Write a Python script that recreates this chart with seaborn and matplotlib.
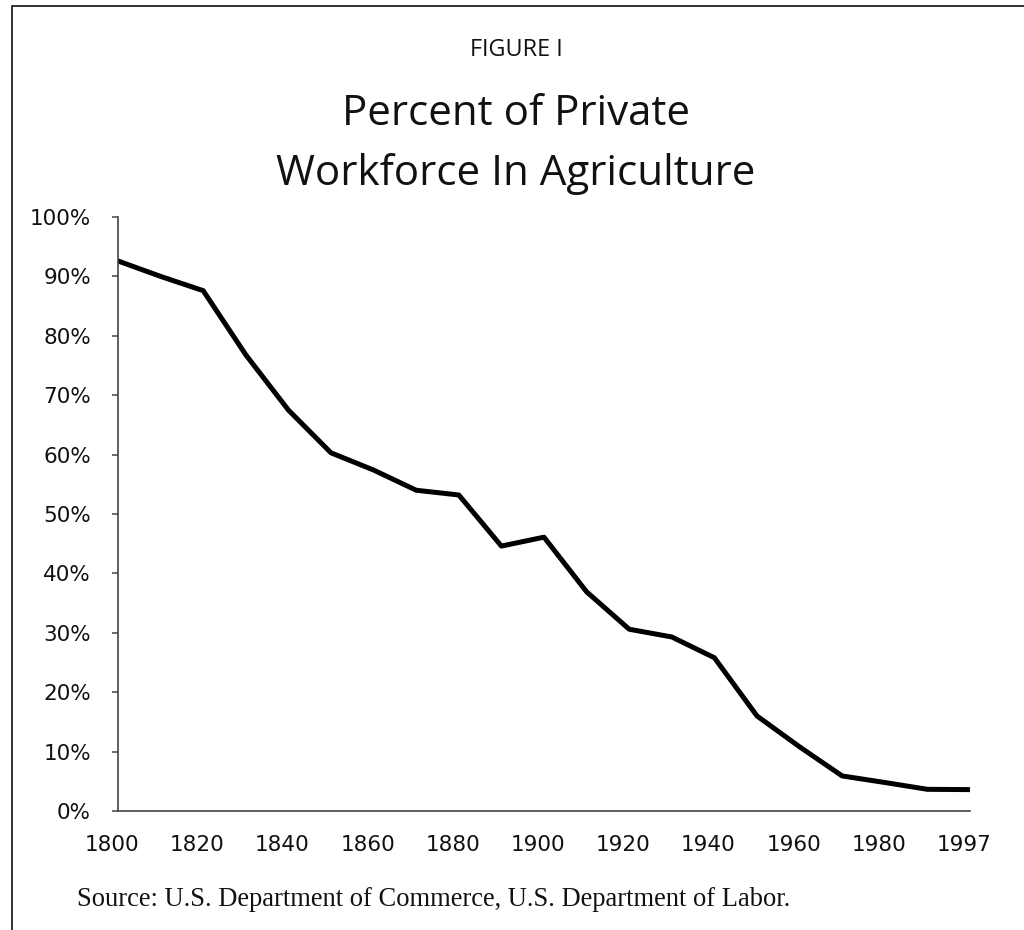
import matplotlib
matplotlib.use("Agg")
import matplotlib.pyplot as plt
import matplotlib.transforms as mtransforms
from matplotlib.patches import Rectangle
import seaborn as sns
import pandas as pd

# Share of the private workforce employed in agriculture, by census year
years = ["1800", "1810", "1820", "1830", "1840", "1850", "1860", "1870",
         "1880", "1890", "1900", "1910", "1920", "1930", "1940", "1950",
         "1960", "1970", "1980", "1990", "1997"]
share = [92.6, 90.0, 87.6, 76.8, 67.5, 60.3, 57.4, 54.0, 53.2, 44.6, 46.1,
         36.9, 30.6, 29.3, 25.8, 16.0, 10.8, 5.9, 4.8, 3.65, 3.6]
y_ticks = [0, 10, 20, 30, 40, 50, 60, 70, 80, 90, 100]
x_labels = years[::2]

df = pd.DataFrame({"year": years, "share": share})

sns.set_theme(style="white")
plt.rcParams["font.family"] = ["DejaVu Sans"]

fig = plt.figure(figsize=(10.24, 9.3), dpi=100)
ax = fig.add_axes([118 / 1024, 1 - 811 / 930, (970 - 118) / 1024, (811 - 217) / 930])

sns.lineplot(data=df, x="year", y="share", ax=ax, color="black",
             linewidth=3.6, sort=False)

ax.set_xlim(0, len(years) - 1)
ax.set_ylim(0, 100)
ax.set_xticks(range(0, len(years), 2))
ax.set_xticklabels(x_labels)
ax.set_yticks(y_ticks)
ax.set_yticklabels([f"{v}%" for v in y_ticks])
ax.set_xlabel("")
ax.set_ylabel("")

for side in ("top", "right"):
    ax.spines[side].set_visible(False)
for side in ("left", "bottom"):
    ax.spines[side].set_color("#444444")
    ax.spines[side].set_linewidth(1.2)

ax.tick_params(axis="y", which="major", left=True, length=4.5, width=1.1,
               color="#444444", pad=15, labelsize=15.5, labelcolor="#111111")
ax.tick_params(axis="x", which="major", bottom=False, length=0, pad=17,
               labelsize=15.5, labelcolor="#111111")

# Year labels sit slightly left of their category position
shift = mtransforms.ScaledTranslation(-6 / 100, 0, fig.dpi_scale_trans)
for lbl in ax.get_xticklabels():
    lbl.set_transform(lbl.get_transform() + shift)

# Frame around the figure
fig.add_artist(Rectangle((11.5 / 1024, -0.5), 2, 1.5 - 6 / 930, fill=False,
                         edgecolor="#111111", linewidth=1.2,
                         transform=fig.transFigure))

title_font = ["Open Sans", "DejaVu Sans"]
fig.text(0.504, 1 - 56 / 930, "FIGURE I", ha="center", va="baseline",
         fontsize=16.8, family=title_font, color="#111111")
fig.text(0.504, 1 - 125 / 930, "Percent of Private", ha="center",
         va="baseline", fontsize=30.3, family=title_font, color="#111111")
fig.text(0.504, 1 - 185 / 930, "Workforce In Agriculture", ha="center",
         va="baseline", fontsize=30.3, family=title_font, color="#111111")

fig.text(77 / 1024, 1 - 906 / 930,
         "Source: U.S. Department of Commerce, U.S. Department of Labor.",
         ha="left", va="baseline", fontsize=19.1,
         family=["Liberation Serif", "DejaVu Serif"], color="#111111")

fig.savefig("out.png", dpi=100, facecolor="white")
